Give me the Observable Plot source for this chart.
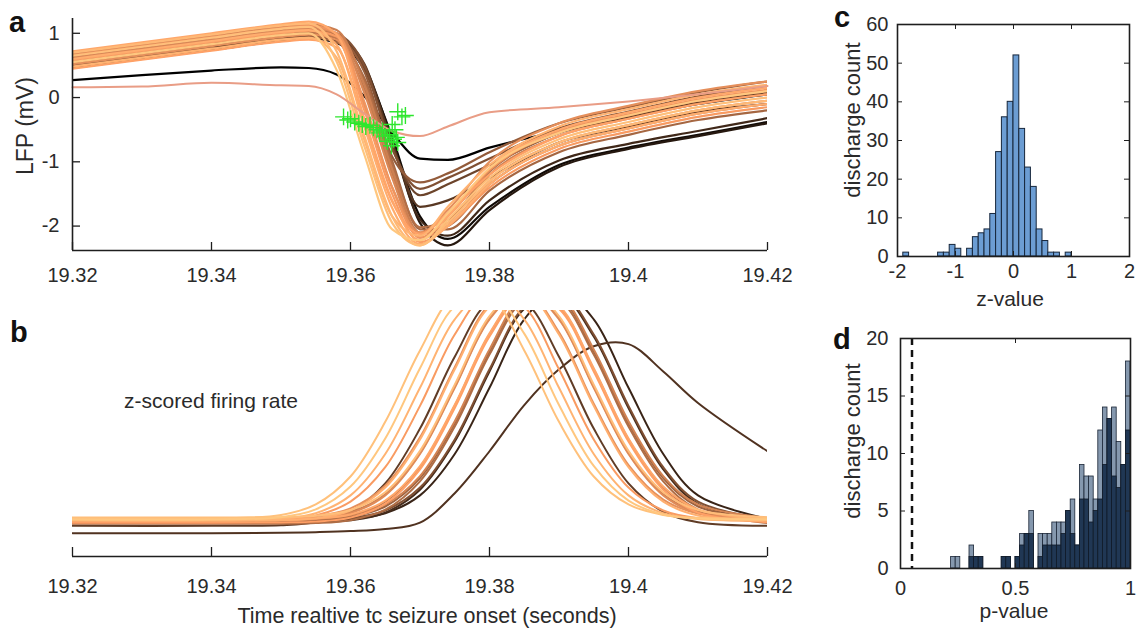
<!DOCTYPE html>
<html><head><meta charset="utf-8">
<script src="https://cdn.jsdelivr.net/npm/d3@7"></script>
<script src="https://cdn.jsdelivr.net/npm/@observablehq/plot@0.6"></script>
<style>
body{margin:0;background:#fff;}
#fig{position:relative;width:1136px;height:631px;font-family:"Liberation Sans",Arial,sans-serif;color:#2a2a2a;overflow:hidden;background:#fff}
.panel{position:absolute}
.lbl{position:absolute;white-space:nowrap;line-height:1;transform:translate(-50%,-50%)}
.rot{transform:translate(-50%,-50%) rotate(-90deg)}
.letter{position:absolute;font-weight:bold;font-size:29px;line-height:1;color:#111}
</style></head>
<body><div id="fig"></div>
<script>
const timeDomain = [19.32, 19.42];
const timeTicks = [19.32, 19.34, 19.36, 19.38, 19.40, 19.42];
const timeTickLabels = ["19.32", "19.34", "19.36", "19.38", "19.4", "19.42"];
const lfpDomain = [-2.38, 1.23];
const lfpTicks = [-2, -1, 0, 1];
const lfpTime = [19.32, 19.33, 19.34, 19.35, 19.354, 19.358, 19.362, 19.366, 19.37, 19.374, 19.38, 19.39, 19.40, 19.41, 19.42];
const lfpShade = [1.00, 0.96, 0.93, 0.90, 0.87, 0.84, 0.81, 0.78, 0.75, 0.72, 0.68, 0.64, 0.60, 0.56, 0.52, 0.46, 0.40, 0.34, 0.28, 0.20, 0.12, 0.05, 0.00];
const lfpTraces = [
  [0.55,0.69,0.83,0.97,1.00,0.43,-0.89,-2.05,-2.22,-1.80,-1.10,-0.55,-0.28,-0.05,0.10],
  [0.65,0.79,0.93,1.07,1.10,0.56,-0.76,-1.95,-2.30,-1.90,-1.25,-0.65,-0.38,-0.15,0.00],
  [0.70,0.84,0.98,1.12,1.15,0.72,-0.60,-1.85,-2.30,-1.95,-1.30,-0.70,-0.43,-0.20,-0.05],
  [0.48,0.62,0.76,0.90,0.93,0.62,-0.66,-1.85,-2.15,-1.70,-1.05,-0.45,-0.18,0.05,0.20],
  [0.60,0.74,0.88,1.02,1.05,0.82,-0.46,-1.72,-2.28,-2.00,-1.35,-0.75,-0.48,-0.25,-0.10],
  [0.72,0.86,1.00,1.14,1.18,0.98,-0.33,-1.60,-2.22,-1.85,-1.10,-0.50,-0.23,0.00,0.15],
  [0.45,0.59,0.73,0.87,0.90,0.78,-0.40,-1.62,-2.12,-1.80,-1.20,-0.60,-0.33,-0.10,0.05],
  [0.58,0.72,0.86,1.00,1.04,0.95,-0.20,-1.50,-2.25,-2.00,-1.40,-0.80,-0.53,-0.30,-0.15],
  [0.66,0.80,0.94,1.08,1.12,1.00,-0.07,-1.40,-2.18,-1.85,-1.13,-0.53,-0.26,-0.03,0.12],
  [0.52,0.66,0.80,0.94,0.98,0.90,-0.13,-1.40,-2.10,-1.75,-1.00,-0.40,-0.13,0.10,0.25],
  [0.62,0.76,0.90,1.04,1.08,1.00,0.07,-1.25,-2.18,-2.00,-1.30,-0.70,-0.43,-0.20,-0.05],
  [0.68,0.82,0.96,1.10,1.14,1.05,0.20,-1.12,-2.12,-1.95,-1.20,-0.60,-0.33,-0.10,0.05],
  [0.55,0.69,0.83,0.97,1.01,0.93,0.13,-1.18,-2.10,-2.00,-1.35,-0.75,-0.48,-0.25,-0.10],
  [0.60,0.74,0.88,1.02,1.06,0.98,0.26,-1.05,-2.02,-1.90,-1.15,-0.55,-0.28,-0.05,0.10],
  [0.48,0.62,0.76,0.90,0.94,0.86,0.30,-0.99,-2.05,-2.05,-1.45,-0.85,-0.58,-0.35,-0.20],
  [0.58,0.72,0.86,1.00,1.04,0.96,0.40,-0.92,-1.32,-1.18,-0.85,-0.40,-0.15,0.08,0.25],
  [0.62,0.76,0.90,1.04,1.08,1.00,0.50,-0.80,-1.42,-1.25,-0.95,-0.48,-0.22,0.02,0.18],
  [0.52,0.66,0.80,0.94,0.98,0.90,0.48,-0.78,-1.52,-1.35,-1.05,-0.55,-0.30,-0.08,0.08],
  [0.56,0.70,0.84,0.98,1.02,0.94,0.52,-0.72,-1.70,-1.60,-1.25,-0.70,-0.45,-0.22,-0.10],
  [0.50,0.64,0.78,0.92,0.96,0.88,0.45,-0.70,-1.90,-2.15,-1.60,-0.98,-0.72,-0.52,-0.32],
  [0.54,0.68,0.82,0.96,1.00,0.92,0.50,-0.66,-1.95,-2.30,-1.75,-1.08,-0.80,-0.60,-0.40],
  [0.46,0.60,0.74,0.88,0.92,0.85,0.44,-0.62,-1.85,-2.20,-1.70,-1.05,-0.78,-0.58,-0.38],
  [0.27,0.35,0.42,0.47,0.46,0.36,0.02,-0.55,-0.95,-0.97,-0.78,-0.52,-0.30,-0.10,0.05]
];
const lfpOutlier = [0.16,0.17,0.23,0.19,0.18,0.05,-0.25,-0.52,-0.60,-0.45,-0.23,-0.15,-0.06,0.05,0.18];
const spikeTime = [19.3590,19.3596,19.3600,19.3606,19.3612,19.3617,19.3622,19.3628,19.3633,19.3638,19.3642,19.3646,19.3650,19.3653,19.3656,19.3659,19.3662,19.3664,19.3666,19.3668,19.3660,19.3668,19.3674,19.3679];
const spikeLFP  = [-0.30,-0.35,-0.33,-0.38,-0.40,-0.42,-0.45,-0.43,-0.47,-0.50,-0.55,-0.52,-0.60,-0.68,-0.58,-0.75,-0.65,-0.50,-0.62,-0.70,-0.42,-0.22,-0.30,-0.28];

const rateDomain = [-0.171, 1.0];
const rateTime = [19.32, 19.34, 19.35, 19.355, 19.36, 19.365, 19.37, 19.375, 19.38, 19.385, 19.39, 19.395, 19.40, 19.405, 19.41, 19.42];
const rateShade = [0.25, 0.22, 0.55, 0.30, 0.18, 0.40, 0.62, 0.50, 0.58, 0.70, 0.66, 0.72, 0.80, 0.78, 0.88, 0.90, 0.84, 0.95, 0.97, 1.00];
const rateTraces = [
  [-0.06,-0.06,-0.058,-0.055,-0.05,-0.04,-0.01,0.13,0.33,0.55,0.72,0.83,0.84,0.71,0.56,0.33],
  [-0.01,-0.01,-0.01,-0.008,0.001,0.038,0.147,0.376,0.71,1.008,1.081,0.876,0.536,0.244,0.08,-0.005],
  [-0.015,-0.015,-0.015,-0.012,0.002,0.052,0.187,0.448,0.79,1.048,1.048,0.79,0.448,0.187,0.052,-0.012],
  [-0.025,-0.025,-0.022,-0.008,0.042,0.177,0.438,0.78,1.04,1.04,0.78,0.438,0.177,0.042,-0.008,-0.025],
  [0,0,0,0.001,0.008,0.035,0.12,0.317,0.632,0.958,1.1,0.958,0.632,0.317,0.12,0.008],
  [0,0,0,0.002,0.011,0.048,0.157,0.386,0.72,1.018,1.091,0.886,0.546,0.254,0.09,0.005],
  [0.005,0.005,0.006,0.013,0.04,0.125,0.322,0.637,0.963,1.105,0.963,0.637,0.322,0.125,0.04,0.006],
  [0,0,0,0.003,0.017,0.067,0.202,0.463,0.805,1.063,1.063,0.805,0.463,0.202,0.067,0.003],
  [0,0,0.001,0.005,0.024,0.09,0.254,0.546,0.886,1.091,1.018,0.72,0.386,0.157,0.048,0.002],
  [0,0,0.001,0.008,0.035,0.12,0.317,0.632,0.958,1.1,0.958,0.632,0.317,0.12,0.035,0.001],
  [0.01,0.01,0.01,0.013,0.027,0.077,0.212,0.473,0.815,1.073,1.073,0.815,0.473,0.212,0.077,0.013],
  [0.01,0.01,0.012,0.021,0.058,0.167,0.396,0.73,1.028,1.10,0.896,0.556,0.264,0.1,0.034,0.011],
  [-0.01,-0.01,-0.009,-0.005,0.014,0.08,0.244,0.536,0.876,1.081,1.008,0.71,0.376,0.147,0.038,-0.008],
  [0,0,0.005,0.024,0.09,0.254,0.546,0.886,1.091,1.018,0.72,0.386,0.157,0.048,0.011,0],
  [0,0,0.002,0.011,0.048,0.157,0.386,0.72,1.018,1.091,0.886,0.546,0.254,0.09,0.024,0.001],
  [0,0,0.008,0.035,0.12,0.317,0.632,0.958,1.10,0.958,0.632,0.317,0.12,0.035,0.008,0],
  [0.005,0.005,0.006,0.01,0.029,0.095,0.259,0.551,0.891,1.096,1.023,0.725,0.391,0.162,0.053,0.007],
  [0.015,0.015,0.016,0.023,0.05,0.135,0.332,0.647,0.973,1.115,0.973,0.647,0.332,0.135,0.05,0.016],
  [0.01,0.01,0.027,0.077,0.21,0.47,0.81,1.07,1.07,0.81,0.47,0.21,0.077,0.027,0.013,0.01],
  [0.005,0.005,0.016,0.053,0.162,0.391,0.725,1.02,1.09,0.89,0.55,0.26,0.095,0.029,0.01,0.005]
];

const zTicks = [-2, -1, 0, 1, 2];
const zCountTicks = [0, 10, 20, 30, 40, 50, 60];
const zBinWidth = 0.1;
const zBinLo  = [-1.9,-1.3,-1.2,-1.1,-1.0,-0.8,-0.7,-0.6,-0.5,-0.4,-0.3,-0.2,-0.1,0,0.1,0.2,0.3,0.4,0.5,0.6,0.7,0.9];
const zCounts = [1,1,1,3,2,2,5,6,7,11,27,36,40,52,33,23,18,7,4,1,1,1];

const pTicks = [0, 0.5, 1];
const pTickLabels = ["0", "0.5", "1"];
const pCountTicks = [0, 5, 10, 15, 20];
const pThreshold = 0.05;
const pBinWidth = 0.02;
const pLightLo = [0.22,0.24,0.30,0.32,0.34,0.44,0.46,0.50,0.52,0.54,0.56,0.60,0.62,0.64,0.66,0.68,0.70,0.72,0.74,0.76,0.78,0.80,0.82,0.84,0.86,0.88,0.90,0.92,0.94,0.96,0.98];
const pLightN  = [1,1,2,1,1,1,1,1,3,3,5,3,3,3,4,4,4,5,6,2,9,8,8,6,12,14,13,14,11,9,18];
const pDarkLo  = [0.30,0.32,0.34,0.44,0.46,0.50,0.52,0.54,0.56,0.60,0.62,0.64,0.66,0.68,0.70,0.72,0.74,0.76,0.78,0.80,0.82,0.84,0.86,0.88,0.90,0.92,0.94,0.96,0.98];
const pDarkN   = [1,1,1,1,1,1,2,3,3,1,2,2,2,2,3,5,3,2,6,6,4,5,6,9,13,8,7,9,12];

const FONT = "'Liberation Sans', Arial, Helvetica, sans-serif";
const baseStyle = {fontFamily: FONT, fontSize: "20px", color: "#2a2a2a", background: "transparent", overflow: "visible"};
const copper = {type: "linear", domain: [0, 0.8, 1], range: ["#000000", "#ff9f65", "#ffc77f"], interpolate: "rgb"};
const AX = "#1e1e1e";
const TICK = 8, TICK_S = 5;

function traceRows(times, traces, shades) {
  const order = d3.range(traces.length).sort((a, b) => shades[a] - shades[b]);
  const out = [];
  order.forEach(k => traces[k].forEach((v, i) => out.push({trace: k, t: times[i], v, shade: shades[k]})));
  return out;
}
const timeFmt = d => timeTickLabels[timeTicks.indexOf(d)];
const id = d => d;

const A = {w: 790, h: 300, ml: 72, mr: 23, mt: 18, mb: 50};
const aRows = traceRows(lfpTime, lfpTraces, lfpShade);
const aOut = lfpTime.map((t, i) => ({t, v: lfpOutlier[i]}));
const spikes = spikeTime.map((t, i) => ({t, v: spikeLFP[i]}));
const aH = A.h - A.mt - A.mb, aW = A.w - A.ml - A.mr;
const plotA = Plot.plot({
  width: A.w, height: A.h, marginLeft: A.ml, marginRight: A.mr, marginTop: A.mt, marginBottom: A.mb,
  x: {domain: timeDomain}, y: {domain: lfpDomain},
  color: copper, style: baseStyle,
  marks: [
    Plot.line(aRows, {x: "t", y: "v", z: "trace", stroke: "shade", strokeWidth: 2.2, curve: "monotone-x", clip: true}),
    Plot.line(aOut, {x: "t", y: "v", stroke: "#e99d86", strokeWidth: 2, curve: "monotone-x"}),
    Plot.dot(spikes, {x: "t", y: "v", symbol: "plus", r: 5.5, stroke: "#2de62d", strokeWidth: 1.4}),
    Plot.ruleX([timeDomain[0]], {stroke: AX, strokeWidth: 1.6}),
    Plot.ruleY([lfpDomain[0]], {stroke: AX, strokeWidth: 1.6}),
    Plot.tickX(timeTicks, {x: id, insetTop: aH - TICK, stroke: AX, strokeWidth: 1.3}),
    Plot.tickY(lfpTicks, {y: id, insetRight: aW - TICK, stroke: AX, strokeWidth: 1.3}),
    Plot.axisX({ticks: timeTicks, tickFormat: timeFmt, tickSize: 0, tickPadding: 17, label: null}),
    Plot.axisY({ticks: lfpTicks, tickFormat: d => String(d), tickSize: 0, tickPadding: 13, label: null})
  ]
});

const B = {w: 790, h: 331, ml: 72, mr: 23, mt: 10, mb: 75};
const bH = B.h - B.mt - B.mb;
const bRows = traceRows(rateTime, rateTraces, rateShade);
const plotB = Plot.plot({
  width: B.w, height: B.h, marginLeft: B.ml, marginRight: B.mr, marginTop: B.mt, marginBottom: B.mb,
  x: {domain: timeDomain}, y: {domain: rateDomain, axis: null},
  color: copper, style: baseStyle,
  marks: [
    Plot.line(bRows, {x: "t", y: "v", z: "trace", stroke: "shade", strokeWidth: 2, curve: "catmull-rom", clip: true}),
    Plot.ruleY([rateDomain[0]], {stroke: AX, strokeWidth: 1.6}),
    Plot.tickX(timeTicks, {x: id, insetTop: bH - (TICK + 1), stroke: AX, strokeWidth: 1.3}),
    Plot.axisX({ticks: timeTicks, tickFormat: timeFmt, tickSize: 0, tickPadding: 22, label: null})
  ]
});

const C = {w: 336, h: 320, ml: 97, mr: 7, mt: 24, mb: 64};
const cH = C.h - C.mt - C.mb, cW = C.w - C.ml - C.mr;
const zRows = zBinLo.map((lo, i) => ({lo, hi: lo + zBinWidth, n: zCounts[i]}));
const plotC = Plot.plot({
  width: C.w, height: C.h, marginLeft: C.ml, marginRight: C.mr, marginTop: C.mt, marginBottom: C.mb,
  x: {domain: [-2, 2]}, y: {domain: [0, 60]},
  style: baseStyle,
  marks: [
    Plot.rectY(zRows, {x1: "lo", x2: "hi", y: "n", fill: "#6c9dd3", stroke: "#16263b", strokeWidth: 1}),
    Plot.tickX(zTicks, {x: id, insetTop: cH - TICK_S, stroke: AX}),
    Plot.tickX(zTicks, {x: id, insetBottom: cH - TICK_S, stroke: AX}),
    Plot.tickY(zCountTicks, {y: id, insetRight: cW - TICK_S, stroke: AX}),
    Plot.tickY(zCountTicks, {y: id, insetLeft: cW - TICK_S, stroke: AX}),
    Plot.frame({stroke: AX, strokeWidth: 1.6}),
    Plot.axisX({ticks: zTicks, tickFormat: d => String(d), tickSize: 0, tickPadding: 7, label: null}),
    Plot.axisY({ticks: zCountTicks, tickFormat: d => String(d), tickSize: 0, tickPadding: 9, label: null})
  ]
});

const D = {w: 336, h: 311, ml: 100, mr: 6, mt: 18, mb: 63};
const dH = D.h - D.mt - D.mb, dW = D.w - D.ml - D.mr;
const pLight = pLightLo.map((lo, i) => ({lo, hi: lo + pBinWidth, n: pLightN[i]}));
const pDark = pDarkLo.map((lo, i) => ({lo, hi: lo + pBinWidth, n: pDarkN[i]}));
const plotD = Plot.plot({
  width: D.w, height: D.h, marginLeft: D.ml, marginRight: D.mr, marginTop: D.mt, marginBottom: D.mb,
  x: {domain: [0, 1]}, y: {domain: [0, 20]},
  style: baseStyle,
  marks: [
    Plot.rectY(pLight, {x1: "lo", x2: "hi", y: "n", fill: "#8598ae", stroke: "#1a2536", strokeWidth: 0.8}),
    Plot.rectY(pDark, {x1: "lo", x2: "hi", y: "n", fill: "#203754", stroke: "#111b29", strokeWidth: 0.8}),
    Plot.ruleX([pThreshold], {stroke: "#111", strokeWidth: 2.5, strokeDasharray: "7,5"}),
    Plot.tickX(pTicks, {x: id, insetTop: dH - TICK_S, stroke: AX}),
    Plot.tickX(pTicks, {x: id, insetBottom: dH - TICK_S, stroke: AX}),
    Plot.tickY(pCountTicks, {y: id, insetRight: dW - TICK_S, stroke: AX}),
    Plot.tickY(pCountTicks, {y: id, insetLeft: dW - TICK_S, stroke: AX}),
    Plot.frame({stroke: AX, strokeWidth: 1.6}),
    Plot.axisX({ticks: pTicks, tickFormat: d => pTickLabels[pTicks.indexOf(d)], tickSize: 0, tickPadding: 12, label: null}),
    Plot.axisY({ticks: pCountTicks, tickFormat: d => String(d), tickSize: 0, tickPadding: 12, label: null})
  ]
});

const fig = document.getElementById("fig");
function place(node, left, top) {
  node.classList.add("panel");
  node.style.left = left + "px";
  node.style.top = top + "px";
  fig.appendChild(node);
}
place(plotA, 0, 0);
place(plotB, 0, 300);
place(plotC, 800, 0);
place(plotD, 800, 320);

function label(text, cx, cy, size, rotate) {
  const el = document.createElement("div");
  el.className = "lbl" + (rotate ? " rot" : "");
  el.textContent = text;
  el.style.left = cx + "px";
  el.style.top = cy + "px";
  el.style.fontSize = size + "px";
  fig.appendChild(el);
}
function letter(text, left, top) {
  const el = document.createElement("div");
  el.className = "letter";
  el.textContent = text;
  el.style.left = left + "px";
  el.style.top = top + "px";
  fig.appendChild(el);
}
letter("a", 9, 8);
letter("b", 10, 318);
letter("c", 834, 3);
letter("d", 833, 325);
label("LFP (mV)", 25, 126, 23, true);
label("z-scored firing rate", 211, 400, 21);
label("Time realtive tc seizure onset (seconds)", 427, 617, 21.5);
label("discharge count", 853, 120, 22, true);
label("z-value", 1010, 298, 21);
label("discharge count", 853, 441, 22, true);
label("p-value", 1014, 610, 21);
</script></body></html>
